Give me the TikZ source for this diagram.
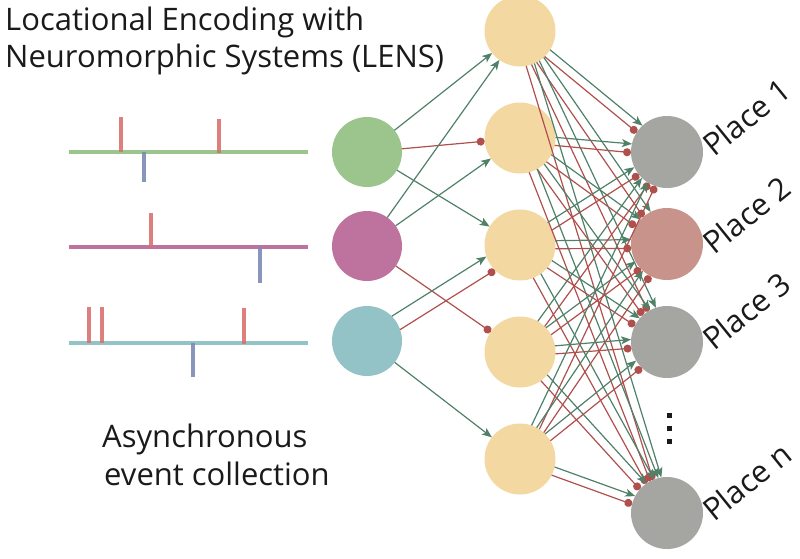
\documentclass[tikz,border=0pt]{standalone}
\usepackage{fontspec}
\setmainfont{Open Sans}
\usetikzlibrary{arrows.meta,calc}
\definecolor{cgreen}{HTML}{4F8068}
\definecolor{cred}{HTML}{B0504C}
\definecolor{nin1}{HTML}{9CC58D}
\definecolor{nin2}{HTML}{BD739E}
\definecolor{nin3}{HTML}{93C3C7}
\definecolor{nhid}{HTML}{F3D8A2}
\definecolor{nout}{HTML}{A5A5A1}
\definecolor{nout2}{HTML}{C8938A}
\definecolor{spred}{HTML}{D8716F}
\definecolor{spblue}{HTML}{7C89B4}
\definecolor{txt}{HTML}{1A1A1A}
\begin{document}
\begin{tikzpicture}[x=1pt,y=-1pt,
  neuron/.style={circle,minimum size=71pt,inner sep=0pt,outer sep=0pt,draw=none},
  exc/.style={draw=cgreen,line width=1.2pt,-{Stealth[length=10pt,width=8pt,inset=2.5pt]}},
  inh/.style={draw=cred,line width=1.2pt,-{Circle[length=8pt]}},
  baseline/.style={line width=4.5pt},
  spike/.style={line width=3.5pt},
  lbl/.style={font=\fontsize{31}{37}\selectfont,text=txt,inner sep=0pt},
  plbl/.style={font=\fontsize{31}{36}\selectfont,text=txt,inner sep=0pt,anchor=base west,rotate=39}]
\useasboundingbox (0,0) rectangle (800,558);
% titles
\node[lbl,anchor=base west] (title1) at (5,30) {Locational Encoding with};
\node[lbl,anchor=base west] (title2) at (5,67) {Neuromorphic Systems (LENS)};
\node[lbl,anchor=base west] (async1) at (102,447) {Asynchronous};
\node[lbl,anchor=base west] (async2) at (104,485) {event collection};
% spike trains
\draw[baseline,nin1] (69,152) -- (308,152);
\draw[spike,spred,opacity=.9] (121,117) -- (121,152);
\draw[spike,spred,opacity=.9] (219,119) -- (219,153);
\draw[spike,spblue,opacity=.9] (144,152) -- (144,182);
\draw[baseline,nin2] (69,247) -- (308,247);
\draw[spike,spred,opacity=.9] (151,213) -- (151,247);
\draw[spike,spblue,opacity=.9] (260,247) -- (260,283);
\draw[baseline,nin3] (69,343) -- (308,343);
\draw[spike,spred,opacity=.9] (89,307) -- (89,343);
\draw[spike,spred,opacity=.9] (102,307) -- (102,343);
\draw[spike,spred,opacity=.9] (244,308) -- (244,344);
\draw[spike,spblue,opacity=.9] (193,343) -- (193,377);
% neurons
\node[neuron,fill=nin1,minimum size=70pt] (i1) at (367,152) {};
\node[neuron,fill=nin2,minimum size=70pt] (i2) at (367,246) {};
\node[neuron,fill=nin3,minimum size=70pt] (i3) at (367,341) {};
\node[neuron,fill=nhid] (h1) at (520,31) {};
\node[neuron,fill=nhid] (h2) at (520,138) {};
\node[neuron,fill=nhid] (h3) at (520,245) {};
\node[neuron,fill=nhid] (h4) at (520,352) {};
\node[neuron,fill=nhid] (h5) at (520,459) {};
\node[neuron,fill=nout,minimum size=72pt] (o1) at (667,152) {};
\node[neuron,fill=nout2,minimum size=72pt] (o2) at (667,244) {};
\node[neuron,fill=nout,minimum size=72pt] (o3) at (667,342) {};
\node[neuron,fill=nout,minimum size=72pt] (o4) at (667,513) {};
% input -> hidden
\draw[exc] (i1) -- (h1);
\draw[inh] (i1) -- (h2);
\draw[exc] (i1) -- (h3);
\draw[exc] (i2) -- (h1);
\draw[exc] (i2) -- (h2);
\draw[inh] (i2) -- (h4);
\draw[exc] let \p1=($(h3)-(i3)$), \n1={atan2(\y1,\x1)} in (i3.{\n1+13}) -- (h3.{\n1+180-13});
\draw[inh] let \p1=($(h3)-(i3)$), \n1={atan2(\y1,\x1)} in (i3.{\n1-13}) -- (h3.{\n1+180+13});
\draw[exc] (i3) -- (h5);
% hidden -> output
\foreach \h in {1,...,5}{
  \foreach \o in {1,...,4}{
    \draw[exc] let \p1=($(o\o)-(h\h)$), \n1={atan2(\y1,\x1)} in (h\h.{\n1+7}) -- (o\o.{\n1+180-7});
    \draw[inh] let \p1=($(o\o)-(h\h)$), \n1={atan2(\y1,\x1)} in (h\h.{\n1-7}) -- (o\o.{\n1+180+7});
  }
}
% place labels
\node[plbl] (p1) at (714,158) {Place 1};
\node[plbl] (p2) at (714,256) {Place 2};
\node[plbl] (p3) at (714,352) {Place 3};
\node[plbl] (p4) at (714,523) {Place n};
% vertical dots
\foreach \yy in {415,428,441}{
  \fill[txt] (666.5,\yy-2.5) rectangle (671.5,\yy+2.5);
}
\end{tikzpicture}
\end{document}
